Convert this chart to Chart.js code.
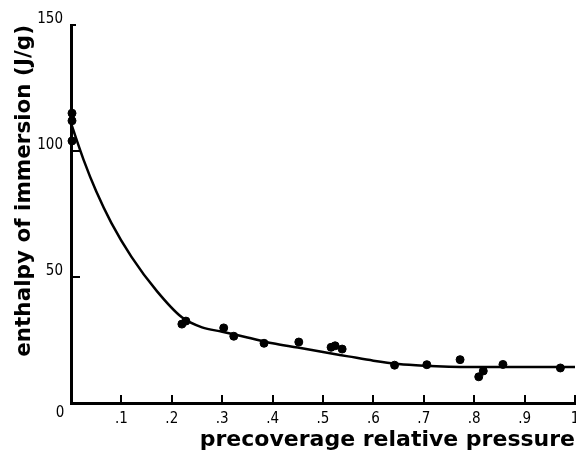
<!DOCTYPE html>
<html>
<head>
<meta charset="utf-8">
<script src="https://cdn.jsdelivr.net/npm/chart.js@4"></script>
<style>
  html, body { margin: 0; padding: 0; background: #fff; }
</style>
</head>
<body>
<canvas id="chart" width="576" height="453"></canvas>
<script>
// measured points
var pointX = [0.002, 0.002, 0.002, 0.220, 0.228, 0.303, 0.323, 0.383, 0.452, 0.516, 0.524, 0.538, 0.642, 0.706, 0.772, 0.809, 0.818, 0.857, 0.971];
var pointY = [115, 112, 104, 31.3, 32.5, 29.8, 26.5, 23.7, 24.2, 22.1, 22.7, 21.4, 15.0, 15.2, 17.2, 10.4, 12.7, 15.3, 13.9];

// fitted curve
var curveX = [0, 0.025, 0.05, 0.08, 0.12, 0.17, 0.22, 0.26, 0.30, 0.35, 0.40, 0.45, 0.50, 0.55, 0.60, 0.65, 0.70, 0.75, 0.80, 0.90, 1.00];
var curveY = [111, 96.5, 84, 71.5, 58, 44.5, 34, 30, 28.3, 26, 23.7, 22, 20.2, 18.5, 16.8, 15.5, 14.8, 14.4, 14.3, 14.3, 14.3];

var xTicks = [0, 0.1, 0.2, 0.3, 0.4, 0.5, 0.6, 0.7, 0.8, 0.9, 1.0];
var xTickLabels = ['', '.1', '.2', '.3', '.4', '.5', '.6', '.7', '.8', '.9', '1'];
var yTicks = [0, 50, 100, 150];
var yTickLabels = ['', '50', '100', '150'];

var tickFont = { family: 'DejaVu Sans Condensed, Liberation Sans Narrow, DejaVu Sans, sans-serif', size: 15 };
var titleFont = { family: 'DejaVu Sans, sans-serif', size: 22, weight: '600' };

function pairs(xs, ys) {
  return xs.map(function (x, i) { return { x: x, y: ys[i] }; });
}

// inward tick marks and the shared "0" at the origin
var innerTicks = {
  id: 'innerTicks',
  afterDraw: function (chart) {
    var ctx = chart.ctx;
    var xs = chart.scales.x, ys = chart.scales.y;
    var area = chart.chartArea;
    ctx.save();
    ctx.strokeStyle = '#000';
    ctx.lineWidth = 2;
    xTicks.forEach(function (v) {
      if (v === 0) return;
      var px = Math.round(xs.getPixelForValue(v));
      ctx.beginPath();
      ctx.moveTo(px, area.bottom);
      ctx.lineTo(px, area.bottom - 8);
      ctx.stroke();
    });
    yTicks.forEach(function (v) {
      if (v === 0) return;
      var py = Math.round(ys.getPixelForValue(v));
      ctx.beginPath();
      ctx.moveTo(area.left, py);
      ctx.lineTo(area.left + (v === 150 ? 5 : 9), py);
      ctx.stroke();
    });
    ctx.fillStyle = '#000';
    ctx.font = tickFont.size + 'px ' + tickFont.family;
    ctx.textAlign = 'center';
    ctx.textBaseline = 'middle';
    ctx.fillText('0', xs.getPixelForValue(0) - 11, ys.getPixelForValue(0) + 10);
    ctx.restore();
  }
};

new Chart(document.getElementById('chart'), {
  type: 'scatter',
  data: {
    datasets: [{
      data: pairs(curveX, curveY),
      showLine: true,
      borderColor: '#000',
      borderWidth: 2.5,
      pointRadius: 0,
      tension: 0.4,
      cubicInterpolationMode: 'monotone',
      clip: false
    }, {
      data: pairs(pointX, pointY),
      backgroundColor: '#000',
      borderColor: '#000',
      pointRadius: 4,
      clip: false
    }]
  },
  options: {
    responsive: false,
    animation: false,
    layout: { autoPadding: false, padding: { top: 25, right: 1, bottom: 0, left: 0 } },
    plugins: { legend: { display: false }, tooltip: { enabled: false } },
    scales: {
      x: {
        type: 'linear',
        min: 0,
        max: 1,
        afterBuildTicks: function (s) { s.ticks = xTicks.map(function (v) { return { value: v }; }); },
        afterFit: function (s) {
          s.height = 50;
          s.paddingLeft = 0;
          s.paddingRight = 0;
        },
        grid: { display: false, drawTicks: false },
        border: { display: true, color: '#000', width: 3 },
        ticks: {
          color: '#000',
          font: tickFont,
          padding: 7,
          maxRotation: 0,
          callback: function (v, i) { return xTickLabels[i]; }
        },
        title: {
          display: true,
          text: 'precoverage relative pressure',
          align: 'end',
          color: '#000',
          font: titleFont,
          padding: 0
        }
      },
      y: {
        type: 'linear',
        min: 0,
        max: 150,
        afterBuildTicks: function (s) { s.ticks = yTicks.map(function (v) { return { value: v }; }); },
        afterFit: function (s) {
          s.width = 71;
          s.paddingTop = 0;
          s.paddingBottom = 0;
        },
        grid: { display: false, drawTicks: false },
        border: { display: true, color: '#000', width: 3 },
        ticks: {
          color: '#000',
          font: tickFont,
          padding: 8,
          labelOffset: -6,
          callback: function (v, i) { return yTickLabels[i]; }
        },
        title: {
          display: true,
          text: 'enthalpy of immersion (J/g)',
          align: 'end',
          color: '#000',
          font: { family: titleFont.family, size: 21.5, weight: '600' },
          padding: { top: 12, bottom: 0 }
        }
      }
    }
  },
  plugins: [innerTicks]
});
</script>
</body>
</html>
